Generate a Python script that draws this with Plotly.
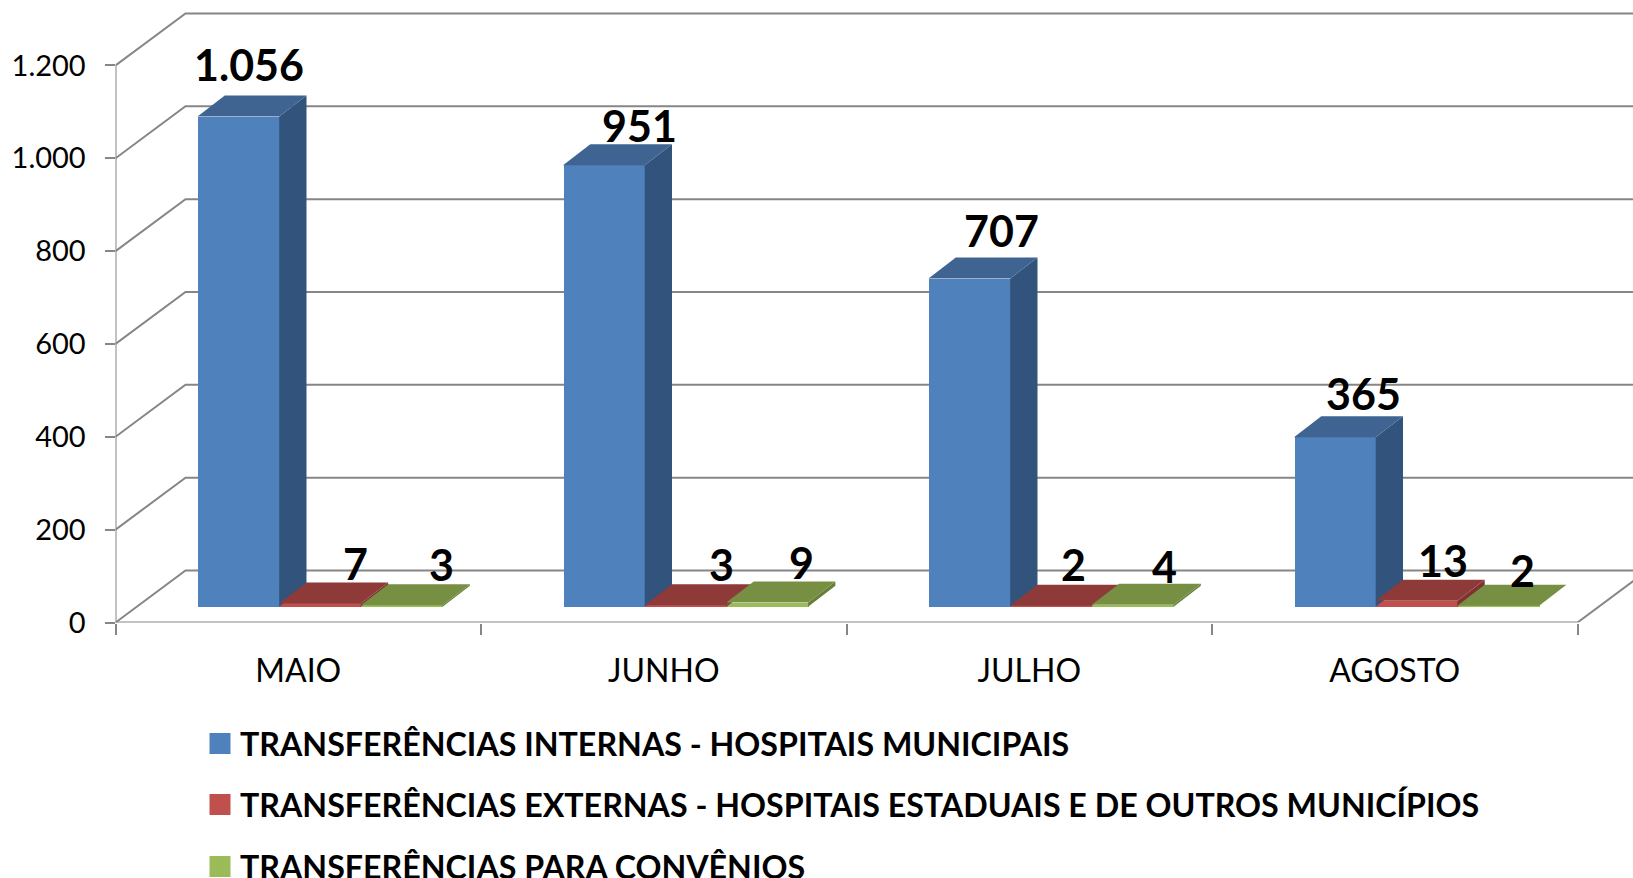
import plotly.graph_objects as go

# ---------- data ----------
months = ["MAIO", "JUNHO", "JULHO", "AGOSTO"]
internas = [1056, 951, 707, 365]
externas = [7, 3, 2, 13]
convenios = [3, 9, 4, 2]
series_names = [
    "TRANSFERÊNCIAS INTERNAS - HOSPITAIS MUNICIPAIS",
    "TRANSFERÊNCIAS EXTERNAS - HOSPITAIS ESTADUAIS E DE OUTROS MUNICÍPIOS",
    "TRANSFERÊNCIAS PARA CONVÊNIOS",
]
y_ticks = [0, 200, 400, 600, 800, 1000, 1200]

# ---------- styles / geometry ----------
W, H = 1633, 878
PX_X = 365.5          # pixels per category
PX_Y = 0.4642         # pixels per value unit
X0_PX, Y0_PX = 115.5, 622.5
TOP_PX = 8
FONT = "Lato"
AXIS = "#868686"
front = ["#4F81BD", "#C0504D", "#9BBB59"]
side = ["#32547C", "#7E3331", "#66803A"]
top = ["#3F6491", "#8E3A38", "#778F43"]

wall_dx, wall_dy = 70 / PX_X, 52 / PX_Y
plane_dy = 15.8 / PX_Y
bar_w = 81.7 / PX_X
bar_start = 82 / PX_X
bar_dx, bar_dy = 27.3 / PX_X, 21 / PX_Y
x_max = (W - X0_PX) / PX_X
y_max = (Y0_PX - TOP_PX) / PX_Y

# per-label pixel nudges (series by month), relative to the top of the bar front
label_nudge = [
    [(10.8, 52), (35.8, 40), (31.7, 48.5), (28.6, 43.6)],
    [(35.6, 40), (35.6, 40.8), (22.2, 41.3), (26.4, 40.4)],
    [(39.5, 40.8), (34.4, 40.1), (31.3, 38.2), (24.1, 35)],
]

all_values = [internas, externas, convenios]
fig = go.Figure()

# wall gridlines, under the bars
shapes = []
for v in y_ticks:
    path = f"M 0 {v} L {wall_dx} {v + wall_dy} L {x_max} {v + wall_dy}"
    shapes.append(dict(type="path", xref="x", yref="y", path=path, layer="below",
                       line=dict(color=AXIS, width=2)))

# front axis lines and right floor edge
for xs, ys in [([0, 0], [0, y_ticks[-1]]),
               ([0, len(months)], [0, 0]),
               ([len(months), len(months) + wall_dx], [0, wall_dy])]:
    fig.add_trace(go.Scatter(x=xs, y=ys, mode="lines", cliponaxis=False, showlegend=False,
                             hoverinfo="skip", line=dict(color=AXIS, width=2)))

annotations = []
for s, vals in enumerate(all_values):
    xc = [i + bar_start + (s + 0.5) * bar_w for i in range(len(months))]
    fig.add_trace(go.Bar(x=xc, y=vals, base=plane_dy, width=bar_w, showlegend=False,
                         marker=dict(color=front[s], line=dict(width=0)),
                         customdata=months, hovertemplate="%{customdata}: %{y}<extra></extra>"))

# side and top faces, left to right
for i in range(len(months)):
    for s, vals in enumerate(all_values):
        v = vals[i]
        xl = i + bar_start + s * bar_w
        xr = xl + bar_w
        yb = plane_dy
        yt = plane_dy + v
        fig.add_trace(go.Scatter(
            x=[xr, xr + bar_dx, xr + bar_dx, xr, xr], y=[yb, yb + bar_dy, yt + bar_dy, yt, yb],
            mode="lines", fill="toself", fillcolor=side[s], line=dict(width=0),
            showlegend=False, hoverinfo="skip"))
        fig.add_trace(go.Scatter(
            x=[xl, xl + bar_dx, xr + bar_dx, xr, xl], y=[yt, yt + bar_dy, yt + bar_dy, yt, yt],
            mode="lines", fill="toself", fillcolor=top[s], line=dict(width=0),
            showlegend=False, hoverinfo="skip"))
        dx, dy = label_nudge[s][i]
        annotations.append(dict(
            x=xl + bar_w / 2, y=yt, xref="x", yref="y", xshift=dx, yshift=dy,
            text=f"<b>{v:,}</b>".replace(",", "."), showarrow=False,
            xanchor="center", yanchor="middle",
            font=dict(family=FONT, size=43, color="#000000")))

# legend entries
legend_ids = ["legend", "legend2", "legend3"]
legend_y = [743.5, 804.5, 866.5]
for s, name in enumerate(series_names):
    fig.add_trace(go.Scatter(x=[None], y=[None], mode="markers", name=name,
                             legend=legend_ids[s], showlegend=True,
                             marker=dict(symbol="square", size=16, color=front[s],
                                         line=dict(color=front[s], width=5))))

leg_common = dict(x=200 / W, xanchor="left", yanchor="middle", bgcolor="rgba(0,0,0,0)",
                  borderwidth=0, font=dict(family=FONT, size=32.2, color="#000000", weight="bold"))

fig.update_layout(
    width=W, height=H, autosize=False,
    margin=dict(l=0, r=0, t=0, b=0, pad=0, autoexpand=False),
    paper_bgcolor="white", plot_bgcolor="white",
    separators=",.",
    shapes=shapes, annotations=annotations,
    bargap=0, barmode="overlay",
    legend=dict(y=1 - legend_y[0] / H, **leg_common),
    legend2=dict(y=1 - legend_y[1] / H, **leg_common),
    legend3=dict(y=1 - legend_y[2] / H, **leg_common),
    xaxis=dict(
        domain=[X0_PX / W, 1], range=[0, x_max], showgrid=False, zeroline=False, showline=False,
        tickmode="array", tickvals=[i + 0.5 for i in range(len(months))], ticktext=months,
        ticks="", ticklabelstandoff=26,
        tickfont=dict(family=FONT, size=32, color="#000000"),
        minor=dict(tickmode="array", tickvals=list(range(len(months) + 1)), ticks="outside",
                   ticklen=11, tickwidth=2, tickcolor=AXIS, showgrid=False),
    ),
    yaxis=dict(
        domain=[1 - Y0_PX / H, 1 - TOP_PX / H], range=[0, y_max], showgrid=False, zeroline=False,
        showline=False, tickmode="array", tickvals=y_ticks, tickformat=",d",
        ticks="outside", ticklen=10, tickwidth=2, tickcolor=AXIS, ticklabelstandoff=13,
        tickfont=dict(family=FONT, size=29, color="#000000"),
    ),
)

fig.write_html("out.html", config={"displayModeBar": False},
               post_script="document.body.style.margin='0';document.body.style.overflow='hidden';")
